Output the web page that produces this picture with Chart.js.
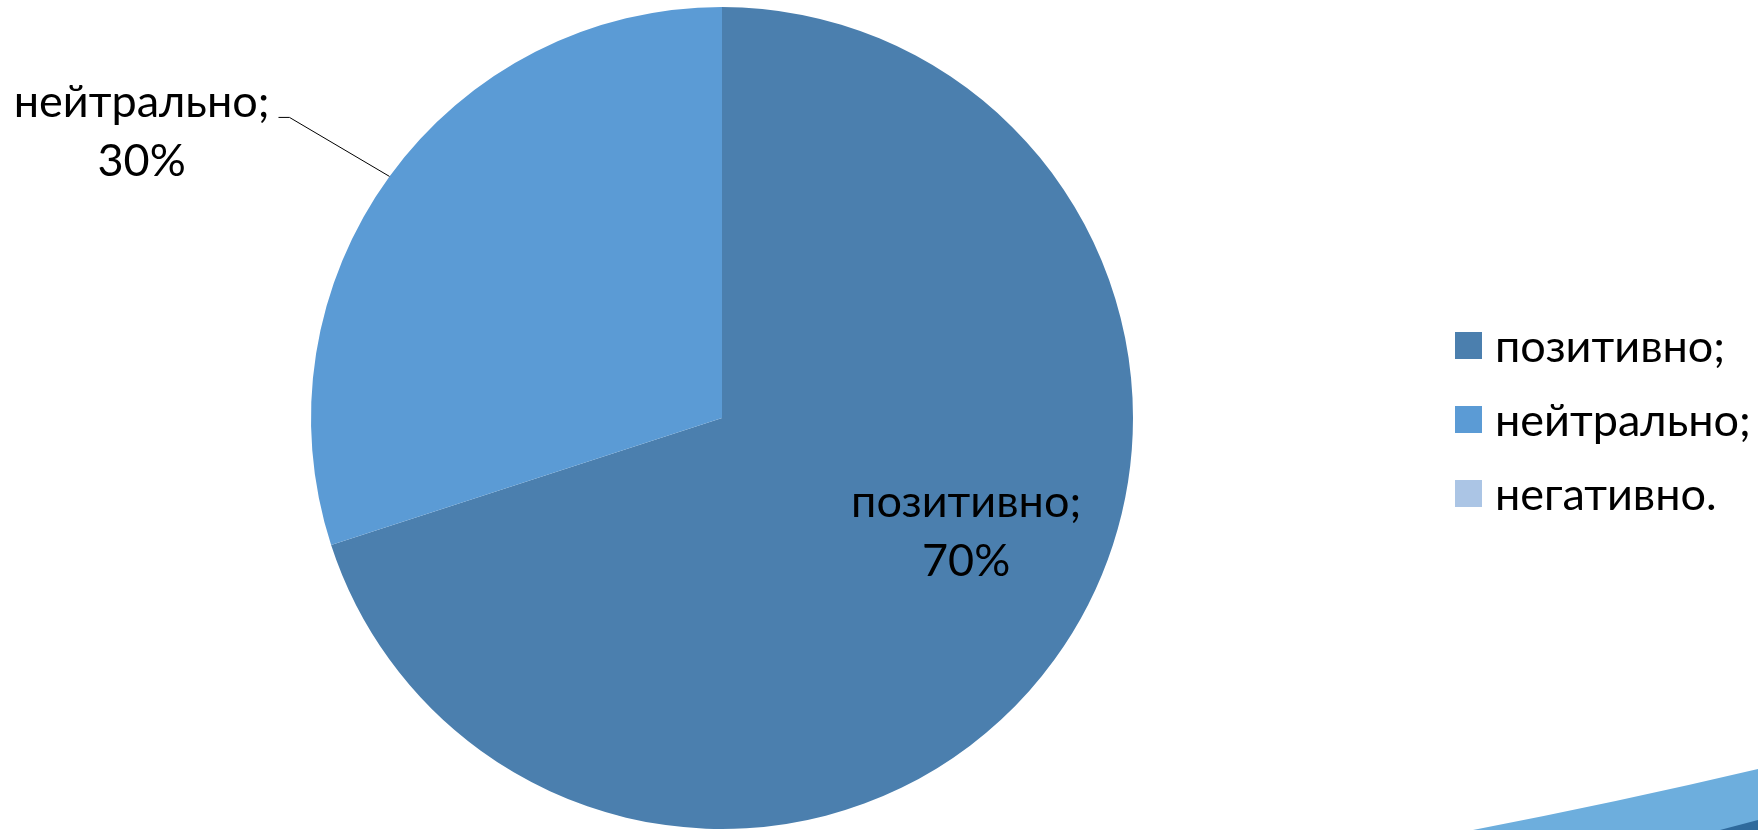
<!DOCTYPE html>
<html>
<head>
<meta charset="utf-8">
<script src="https://cdn.jsdelivr.net/npm/chart.js@4"></script>
<style>
  html, body { margin: 0; padding: 0; background: #fff; }
  canvas { display: block; }
</style>
</head>
<body>
<canvas id="chart-opinion" width="1758" height="830"></canvas>
<script>
const labels = ['позитивно;', 'нейтрально;', 'негативно.'];
const values = [70, 30, 0];
const colors = ['#4b7fae', '#5b9bd5', '#abc5e5'];

const FONT = '45px Lato, "Open Sans", sans-serif';

// slide background swoosh in the lower right corner
const slideBackdrop = {
    id: 'slideBackdrop',
    beforeDraw(chart) {
        const { ctx, width, height } = chart;
        ctx.save();
        ctx.fillStyle = '#6daedd';
        ctx.beginPath();
        ctx.moveTo(width - 285, height);
        ctx.quadraticCurveTo(width - 140, height - 28, width, height - 61);
        ctx.lineTo(width, height);
        ctx.closePath();
        ctx.fill();
        ctx.fillStyle = '#2f6a9c';
        ctx.beginPath();
        ctx.moveTo(width - 38, height);
        ctx.lineTo(width, height - 10);
        ctx.lineTo(width, height);
        ctx.closePath();
        ctx.fill();
        ctx.restore();
    },
};

// value labels: inside for the big slice, outside with a leader for the small one
const sliceLabels = {
    id: 'sliceLabels',
    afterDatasetsDraw(chart) {
        const { ctx } = chart;
        const meta = chart.getDatasetMeta(0);
        const data = chart.data.datasets[0].data;
        const total = data.reduce((a, b) => a + b, 0);
        ctx.save();
        ctx.font = FONT;
        ctx.fillStyle = '#000';
        meta.data.forEach((arc, i) => {
            if (!data[i]) return;
            const pct = Math.round(data[i] / total * 100) + '%';
            const { x, y, startAngle, endAngle, outerRadius } = arc.getProps(['x', 'y', 'startAngle', 'endAngle', 'outerRadius'], true);
            const mid = (startAngle + endAngle) / 2;
            if (data[i] / total > 0.5) {
                const a = mid - 0.21;
                const cx = x + Math.cos(a) * outerRadius * 0.65;
                const cy = y + Math.sin(a) * outerRadius * 0.65;
                ctx.textAlign = 'center';
                ctx.textBaseline = 'alphabetic';
                ctx.fillText(chart.data.labels[i], cx, cy - 10);
                ctx.fillText(pct, cx, cy + 49);
            } else {
                const px = x + Math.cos(mid) * outerRadius;
                const py = y + Math.sin(mid) * outerRadius;
                const ex = px - 100, ey = py - 59;
                ctx.strokeStyle = '#000';
                ctx.lineWidth = 1;
                ctx.beginPath();
                ctx.moveTo(px, py);
                ctx.lineTo(ex, ey);
                ctx.lineTo(ex - 11, ey);
                ctx.stroke();
                const w = ctx.measureText(chart.data.labels[i]).width;
                const right = ex - 20;
                ctx.textAlign = 'center';
                ctx.textBaseline = 'alphabetic';
                ctx.fillText(chart.data.labels[i], right - w / 2, ey);
                ctx.fillText(pct, right - w / 2, ey + 59);
            }
        });
        ctx.restore();
    },
};

// legend on the right, drawn from the chart's own labels and colours
const sideLegend = {
    id: 'sideLegend',
    afterDraw(chart) {
        const { ctx } = chart;
        const ds = chart.data.datasets[0];
        ctx.save();
        ctx.font = FONT;
        ctx.textAlign = 'left';
        ctx.textBaseline = 'alphabetic';
        chart.data.labels.forEach((lab, i) => {
            const top = 332 + i * 74;
            ctx.fillStyle = ds.backgroundColor[i];
            ctx.fillRect(1455, top, 27, 27);
            ctx.fillStyle = '#000';
            ctx.fillText(lab, 1495, top + 30);
        });
        ctx.restore();
    },
};

new Chart(document.getElementById('chart-opinion'), {
    type: 'pie',
    data: {
        labels,
        datasets: [
            {
                data: values,
                backgroundColor: colors,
                borderWidth: 0,
                hoverOffset: 0,
            },
        ],
    },
    options: {
        responsive: false,
        animation: false,
        events: [],
        layout: { padding: { left: 0, right: 314, top: 7, bottom: 1 } },
        plugins: {
            legend: { display: false },
            tooltip: { enabled: false },
        },
    },
    plugins: [slideBackdrop, sliceLabels, sideLegend],
});
</script>
</body>
</html>
